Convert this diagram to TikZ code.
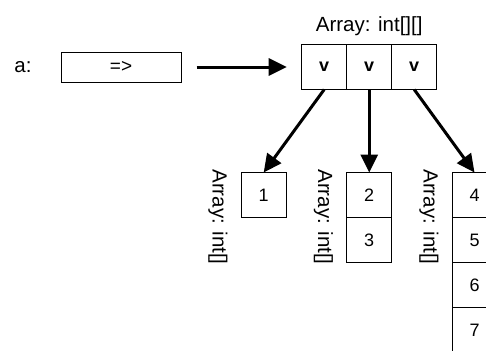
\documentclass[tikz,border=0pt]{standalone}
\usepackage{fontspec}
\setmainfont{Liberation Sans}
\usetikzlibrary{positioning,arrows.meta}

\tikzset{
    cell/.style = {draw, line width = 1bp, minimum width = 45bp, minimum height = 45bp, inner sep = 0pt, outer sep = 0pt, font = \fontsize{18bp}{20bp}\selectfont},
    ptrbox/.style = {draw, line width = 1bp, minimum width = 120bp, minimum height = 30bp, inner sep = 0pt, font = \fontsize{19bp}{21bp}\selectfont},
    lbl/.style = {inner sep = 0pt, font = \fontsize{20.5bp}{22bp}\selectfont},
    ref/.style = {-{Triangle[length = 18bp, width = 17bp]}, line width = 3bp}
}

\begin{document}
\begin{tikzpicture}[x = 1bp, y = -1bp]
%\draw [help lines] (0,0) grid (486,350);
    \clip (0,0) rectangle (486,350);
    \node[lbl] (a) at (23,67) {a:};
    \node[ptrbox] (ptr) at (121,67) {=>};
    % outer array
    \node[cell] (v1) at (324.2,67) {\textbf{v}};
    \node[cell, right = 0pt of v1] (v2) {\textbf{v}};
    \node[cell, right = 0pt of v2] (v3) {\textbf{v}};
    \node[lbl, above = 9bp of v2] (title) {Array: int[][]};
    \draw[ref, shorten <= 15bp, shorten >= 15bp] (ptr.east) -- (v1.west);
    % inner arrays
    \node[cell] (c1) at (263.7,195) {1};
    \node[cell, below = 83bp of v2] (c2a) {2};
    \node[cell, below = 0pt of c2a] (c2b) {3};
    \node[cell] (c3a) at (474.5,195) {4};
    \node[cell, below = 0pt of c3a] (c3b) {5};
    \node[cell, below = 0pt of c3b] (c3c) {6};
    \node[cell, below = 0pt of c3c] (c3d) {7};
    \draw[ref] (v1.south) -- (c1.north);
    \draw[ref] (v2.south) -- (c2a.north);
    \draw[ref] (v3.south) -- (c3a.north);
    \node[lbl, rotate = -90] (t1) at (218,217) {Array: int[]};
    \node[lbl, rotate = -90] (t2) at (323.5,217) {Array: int[]};
    \node[lbl, rotate = -90] (t3) at (429,217) {Array: int[]};
\end{tikzpicture}
\end{document}
